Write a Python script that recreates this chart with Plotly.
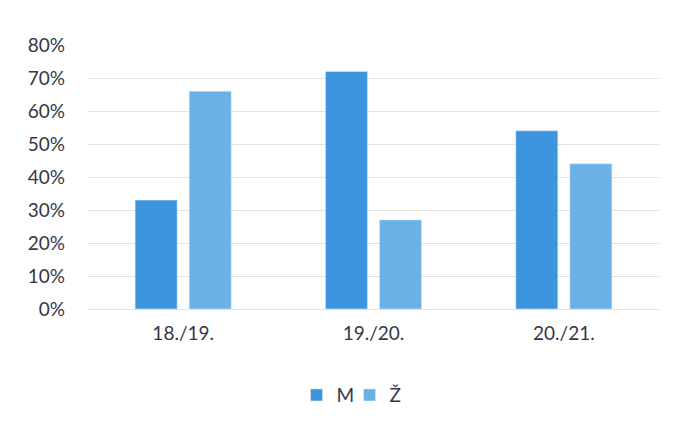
import plotly.graph_objects as go

categories = ["18./19.", "19./20.", "20./21."]
m_values = [0.33, 0.72, 0.54]
z_values = [0.66, 0.27, 0.44]
y_ticks = [0, 0.1, 0.2, 0.3, 0.4, 0.5, 0.6, 0.7, 0.8]
y_tick_labels = ["0%", "10%", "20%", "30%", "40%", "50%", "60%", "70%", "80%"]

fig = go.Figure()
fig.add_trace(go.Bar(name="M", x=categories, y=m_values, marker_color="#3d95e0"))
fig.add_trace(go.Bar(name="Ž", x=categories, y=z_values, marker_color="#6ab1e6"))

fig.update_layout(
    width=669, height=418,
    margin=dict(l=80, r=18, t=37, b=117, autoexpand=False),
    paper_bgcolor="white", plot_bgcolor="white",
    barmode="group", bargap=0.432, bargroupgap=0.222,
    font=dict(family="Lato", size=19, color="#363648"),
    showlegend=True,
    legend=dict(orientation="h", x=0.458, xanchor="center", y=-0.326, yanchor="middle",
                font=dict(size=19), itemwidth=30, entrywidth=8, entrywidthmode="pixels",
                traceorder="normal"),
    xaxis=dict(showgrid=False, showline=False, ticks="", ticklabelstandoff=11, automargin=False),
    yaxis=dict(range=[0, 0.8], tickvals=y_ticks, ticktext=y_tick_labels,
               showgrid=True, gridcolor="#e2e2e2", gridwidth=1,
               zeroline=True, zerolinecolor="#e2e2e2", zerolinewidth=1,
               showline=False, ticks="", ticklabelstandoff=22, automargin=False),
)

fig.write_html("out.html")
